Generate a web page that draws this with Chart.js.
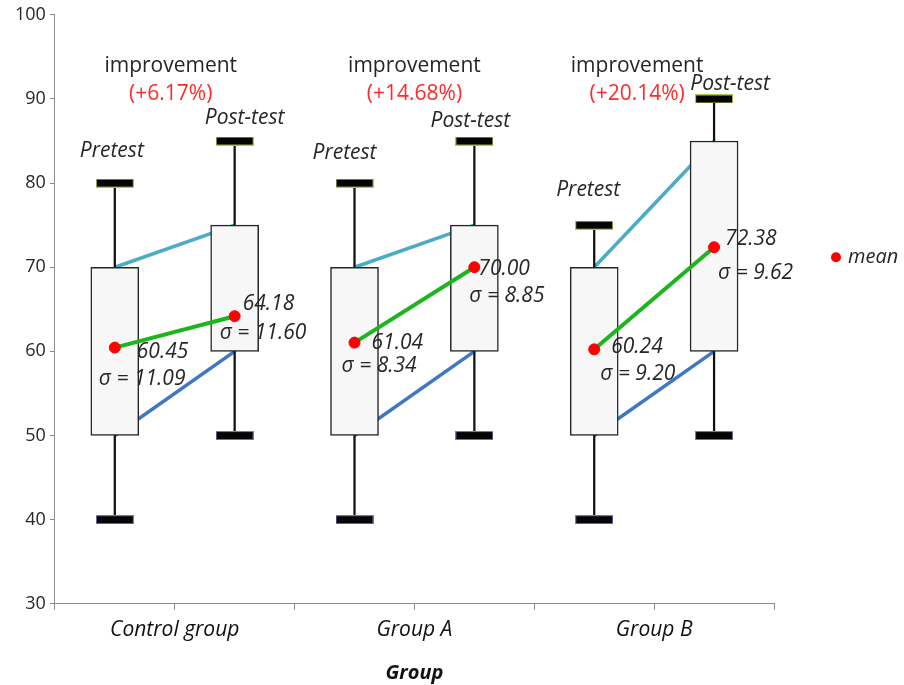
<!DOCTYPE html>
<html>
<head>
<meta charset="utf-8">
<script src="https://cdn.jsdelivr.net/npm/chart.js@4.4.1/dist/chart.umd.min.js"></script>
<style>
  html, body { margin: 0; padding: 0; background: #fff; }
  #wrap { width: 904px; height: 685px; }
</style>
</head>
<body>
<div id="wrap"><canvas id="boxChart"></canvas></div>
<script>
// categories
const groups = ['Control group', 'Group A', 'Group B'];
const phases = ['Pretest', 'Post-test'];
// six boxes: pretest / post-test for each group
const boxMin  = [40, 50, 40, 50, 40, 50];
const boxQ1   = [50, 60, 50, 60, 50, 60];
const boxQ3   = [70, 75, 70, 75, 70, 85];
const boxMax  = [80, 85, 80, 85, 75, 90];
const means   = [60.45, 64.18, 61.04, 70.00, 60.24, 72.38];
const sds     = [11.09, 11.60, 8.34, 8.85, 9.20, 9.62];
const improvement = ['+6.17%', '+14.68%', '+20.14%'];
// y ticks
const yTicks = [30, 40, 50, 60, 70, 80, 90, 100];

// label nudges (px): [meanDx, meanDy, sdDx, sdDy]
const statNudge = [[22, 4, -16, 31], [8, -12, -15, 17], [17, 0, -13, 23],
                   [4, 2, -5, 29], [17, -2, 6, 25], [11, -8, 4, 26]];
// [centerDx, dyAboveCap] for Pretest / Post-test
const phaseNudge = [[-3, -32], [10, -23], [-10, -30], [-4, -20], [-6, -35], [16, -15]];
const improveDx = [-4, 0, -17];

const pos = boxMin.map((_, i) => i + 0.5);

Chart.defaults.font.family = '"Open Sans", sans-serif';

// cap image (black bar with thin coloured edge)
function makeCap(edge) {
  const c = document.createElement('canvas');
  c.width = 38; c.height = 9;
  const g = c.getContext('2d');
  g.fillStyle = edge;
  g.fillRect(0, 0, 38, 9);
  g.fillStyle = '#050505';
  g.fillRect(1, 1, 36, 7);
  return c;
}
const capTop = makeCap('#a7c94a');
const capBottom = makeCap('#8a6cc0');

const datasets = [];
// connecting lines between pretest and post-test
groups.forEach((g, k) => {
  const a = 2 * k, b = 2 * k + 1;
  datasets.push({
    type: 'line', order: 10,
    data: [{ x: pos[a], y: boxQ3[a] }, { x: pos[b], y: boxQ3[b] }],
    borderColor: '#4bacc6', borderWidth: 3.5, pointRadius: 0
  });
  datasets.push({
    type: 'line', order: 10,
    data: [{ x: pos[a], y: boxQ1[a] }, { x: pos[b], y: boxQ1[b] }],
    borderColor: '#3f78c0', borderWidth: 3.5, pointRadius: 0
  });
  datasets.push({
    type: 'line', order: 2,
    data: [{ x: pos[a], y: means[a] }, { x: pos[b], y: means[b] }],
    borderColor: '#1db51d', borderWidth: 4, pointRadius: 0
  });
});
// whiskers
datasets.push({
  type: 'bar', order: 9, grouped: false,
  data: pos.map((x, i) => ({ x: x, y: [boxMin[i], boxMax[i]] })),
  backgroundColor: '#111', barThickness: 1.6
});
// boxes
datasets.push({
  type: 'bar', order: 8, grouped: false,
  data: pos.map((x, i) => ({ x: x, y: [boxQ1[i], boxQ3[i]] })),
  backgroundColor: '#f7f7f7', borderColor: '#262626', borderWidth: 1.5,
  borderSkipped: false, barThickness: 48
});
// caps
datasets.push({
  type: 'scatter', order: 6,
  data: pos.map((x, i) => ({ x: x, y: boxMax[i] })),
  pointStyle: capTop, pointRadius: 5
});
datasets.push({
  type: 'scatter', order: 6,
  data: pos.map((x, i) => ({ x: x, y: boxMin[i] })),
  pointStyle: capBottom, pointRadius: 5
});
// means
datasets.push({
  type: 'scatter', order: 1,
  data: pos.map((x, i) => ({ x: x, y: means[i] })),
  backgroundColor: '#ff0000', borderColor: '#ff0000', pointRadius: 5.5
});

const textPlugin = {
  id: 'boxText',
  afterDatasetsDraw(chart) {
    const { ctx, chartArea, scales } = chart;
    const x = scales.x, y = scales.y;
    ctx.save();
    ctx.textBaseline = 'middle';
    ctx.fillStyle = '#262626';
    ctx.font = 'italic 21px "Open Sans"';
    means.forEach((m, i) => {
      const px = x.getPixelForValue(pos[i]);
      const py = y.getPixelForValue(m);
      const n = statNudge[i];
      ctx.textAlign = 'left';
      ctx.fillText(m.toFixed(2), px + n[0], py + n[1]);
      ctx.fillText('σ = ' + sds[i].toFixed(2), px + n[2], py + n[3]);
      // Pretest / Post-test
      const cy = y.getPixelForValue(boxMax[i]);
      ctx.textAlign = 'center';
      ctx.fillText(phases[i % 2], px + phaseNudge[i][0], cy + phaseNudge[i][1]);
    });
    // improvement
    groups.forEach((g, k) => {
      const gx = x.getPixelForValue(2 * k + 1) + improveDx[k];
      ctx.textAlign = 'center';
      ctx.font = '21px "Open Sans"';
      ctx.fillStyle = '#262626';
      ctx.fillText('improvement', gx, chartArea.top + 51.5);
      ctx.fillStyle = '#ff2a2a';
      ctx.fillText('(' + improvement[k] + ')', gx, chartArea.top + 79.5);
    });
    // legend
    const lx = chartArea.right + 62, ly = chartArea.top + 242.5;
    ctx.fillStyle = '#ff0000';
    ctx.beginPath();
    ctx.arc(lx, ly, 5, 0, Math.PI * 2);
    ctx.fill();
    ctx.fillStyle = '#262626';
    ctx.font = 'italic 20px "Open Sans"';
    ctx.textAlign = 'left';
    ctx.fillText('mean', lx + 12, ly);
    ctx.restore();
  }
};

new Chart(document.getElementById('boxChart'), {
  type: 'scatter',
  data: { datasets: datasets },
  options: {
    responsive: true,
    maintainAspectRatio: false,
    animation: false,
    layout: { padding: { left: 11, right: 130, top: 4, bottom: 0 } },
    plugins: { legend: { display: false }, tooltip: { enabled: false } },
    scales: {
      x: {
        type: 'linear', min: 0, max: 6, offset: false,
        border: { color: '#8c8c8c', width: 1 },
        grid: { drawOnChartArea: false, color: '#8c8c8c', tickLength: 6, offset: false },
        ticks: {
          stepSize: 1, autoSkip: false, maxRotation: 0, padding: 8,
          color: '#111', font: { size: 21, style: 'italic' },
          callback: v => (v % 2 === 1 ? groups[(v - 1) / 2] : '')
        },
        title: {
          display: true, text: 'Group', color: '#111',
          font: { size: 20, weight: 'bold', style: 'italic' },
          padding: { top: 10, bottom: 0 }
        }
      },
      y: {
        min: yTicks[0], max: yTicks[yTicks.length - 1],
        border: { color: '#8c8c8c', width: 1 },
        grid: { drawOnChartArea: false, color: '#8c8c8c', tickLength: 5 },
        afterBuildTicks: s => { s.ticks = yTicks.map(v => ({ value: v })); },
        ticks: { color: '#262626', padding: 4, font: { size: 18 } }
      }
    }
  },
  plugins: [textPlugin]
});
</script>
</body>
</html>
